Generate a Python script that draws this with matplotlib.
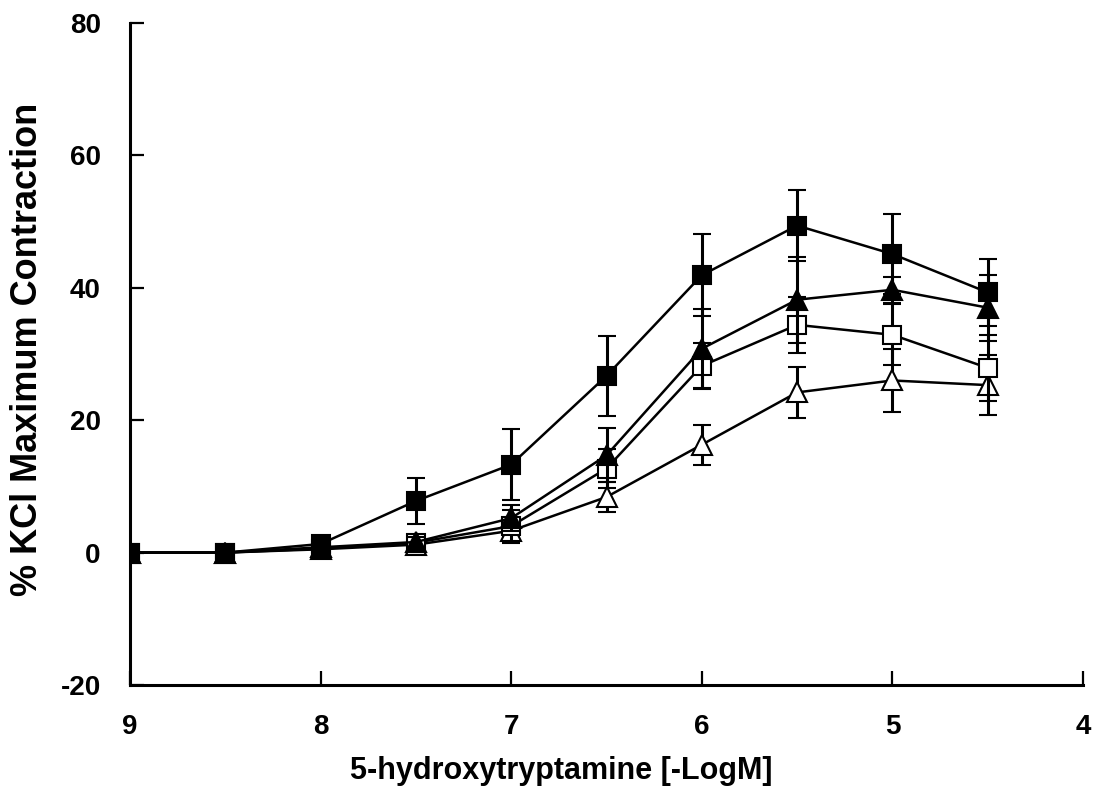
import matplotlib
matplotlib.use("Agg")
import matplotlib.pyplot as plt

# ---- data ----
x_logm = [9, 8.5, 8, 7.5, 7, 6.5, 6, 5.5, 5, 4.5]
filled_sq = [0, 0, 1.3, 7.8, 13.3, 26.7, 41.9, 49.4, 45.1, 39.3]
filled_sq_err = [0, 0, 0.5, 3.5, 5.4, 6.0, 6.2, 5.4, 6.0, 5.0]
filled_tri = [0, 0, 0.8, 1.6, 5.2, 14.7, 30.8, 38.2, 39.7, 37.0]
filled_tri_err = [0, 0, 0.3, 0.8, 2.0, 4.1, 6.0, 6.5, 2.0, 5.0]
open_sq = [0, 0, 0.6, 1.5, 4.0, 12.7, 28.2, 34.4, 32.9, 27.9]
open_sq_err = [0, 0, 0.3, 0.8, 2.5, 3.0, 3.5, 4.2, 4.6, 5.0]
open_tri = [0, 0, 0.5, 1.2, 3.3, 8.4, 16.3, 24.2, 26.0, 25.3]
open_tri_err = [0, 0, 0.3, 0.6, 1.0, 2.3, 3.0, 3.8, 4.8, 4.5]

x_ticks = [9, 8, 7, 6, 5, 4]
y_ticks = [-20, 0, 20, 40, 60, 80]
x_label = "5-hydroxytryptamine [-LogM]"
y_label = "% KCl Maximum Contraction"

fig = plt.figure(figsize=(10.95, 7.91), dpi=100)
ax = fig.add_axes([130/1095, 1-685/791, (1083-130)/1095, (685-23)/791])

series = [
    (open_tri, open_tri_err, "^", "white", 14),
    (open_sq, open_sq_err, "s", "white", 13),
    (filled_tri, filled_tri_err, "^", "black", 14),
    (filled_sq, filled_sq_err, "s", "black", 13),
]
for i, (y, e, m, fc, ms) in enumerate(series):
    ax.errorbar(x_logm, y, yerr=e, fmt="-", color="black", lw=1.8,
                elinewidth=2.2, capsize=6.5, capthick=2.2,
                marker=m, markersize=ms, markerfacecolor=fc,
                markeredgecolor="black", markeredgewidth=1.5,
                zorder=3 + i)

ax.set_xlim(9, 4)
ax.set_ylim(-20, 80)
ax.set_xticks(x_ticks)
ax.set_yticks(y_ticks)
ax.set_xticklabels([str(t) for t in x_ticks])
ax.set_yticklabels([str(t) for t in y_ticks])
for s in ["top", "right"]:
    ax.spines[s].set_visible(False)
for s in ["left", "bottom"]:
    ax.spines[s].set_linewidth(2.2)
ax.tick_params(axis="both", direction="in", length=10, width=1.6)
ax.tick_params(axis="y", pad=21)
ax.tick_params(axis="x", pad=21)
for lab in ax.get_xticklabels() + ax.get_yticklabels():
    lab.set_fontfamily("Liberation Sans")
    lab.set_fontweight("bold")
    lab.set_fontsize(20)

ax.set_xlabel(x_label, fontsize=22, fontweight="bold", family="Liberation Sans")
ax.xaxis.set_label_coords(0.453, -0.108)
ax.xaxis.label.set_va("top")
ax.set_ylabel(y_label, fontsize=26, fontweight="bold", family="Liberation Sans")
ax.yaxis.set_label_coords(-0.089, 0.507)

fig.savefig("out.png", dpi=100)
